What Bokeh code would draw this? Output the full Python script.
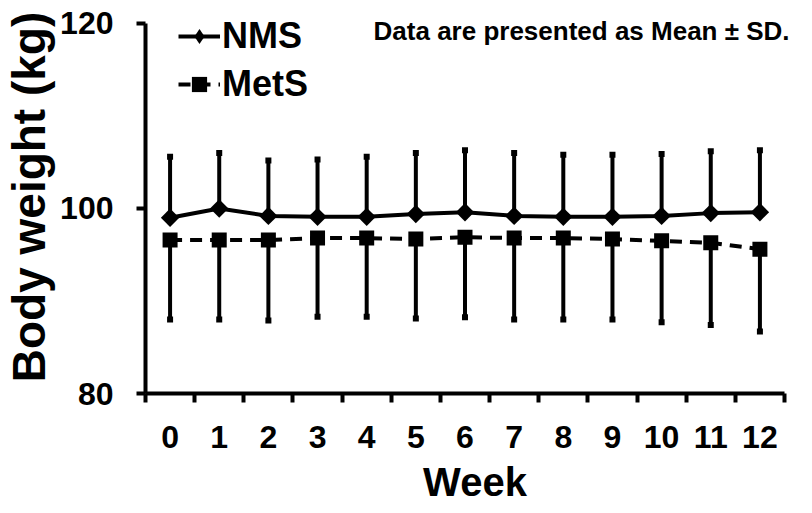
import numpy as np
from bokeh.plotting import figure
from bokeh.models import FixedTicker, Range1d, Legend, LegendItem, Label
from bokeh.embed import file_html
from bokeh.resources import INLINE

# ---- data ----
weeks = list(range(13))
week_labels = [str(w) for w in weeks]
nms_mean = [99.0, 100.0, 99.2, 99.1, 99.1, 99.4, 99.6, 99.2, 99.1, 99.1, 99.2, 99.5, 99.6]
nms_sd = [6.6, 6.0, 6.0, 6.2, 6.5, 6.6, 6.7, 6.8, 6.7, 6.7, 6.7, 6.7, 6.7]
mets_mean = [96.6, 96.6, 96.6, 96.8, 96.8, 96.7, 96.9, 96.8, 96.8, 96.7, 96.5, 96.3, 95.6]
mets_sd = [8.6, 8.6, 8.7, 8.5, 8.5, 8.6, 8.65, 8.8, 8.8, 8.7, 8.8, 8.9, 8.9]
y_ticks = [80, 100, 120]
series_names = ["NMS", "MetS"]
note_text = "Data are presented as Mean \u00b1 SD."
x_title = "Week"
y_title = "Body weight (kg)"

FONT = "Liberation Sans"
BLACK = "#000000"

nms_upper = [m + s for m, s in zip(nms_mean, nms_sd)]
mets_lower = [m - s for m, s in zip(mets_mean, mets_sd)]

x_start = weeks[0] - 0.5
x_end = weeks[-1] + 0.5

p = figure(
    frame_width=659, frame_height=393,
    min_border_left=137, min_border_right=0, min_border_top=0, min_border_bottom=112,
    x_range=Range1d(x_start, 12.907), y_range=Range1d(y_ticks[0], 122.486),
    output_backend="svg", toolbar_location=None,
)
p.outline_line_color = None
p.grid.visible = False
p.background_fill_color = "white"
p.border_fill_color = "white"

# error bars
p.segment(x0=weeks, y0=nms_mean, x1=weeks, y1=nms_upper, line_width=4, line_color=BLACK)
p.scatter(x=weeks, y=nms_upper, marker="square", size=6, fill_color=BLACK, line_color=None)
p.segment(x0=weeks, y0=mets_mean, x1=weeks, y1=mets_lower, line_width=4, line_color=BLACK)
p.scatter(x=weeks, y=mets_lower, marker="square", size=6, fill_color=BLACK, line_color=None)

# series
nms_line = p.line(x=weeks, y=nms_mean, line_width=4, line_color=BLACK)
nms_pts = p.scatter(x=weeks, y=nms_mean, marker="square", angle=np.pi / 4, size=13,
                    fill_color=BLACK, line_color=None)
mets_line = p.line(x=weeks, y=mets_mean, line_width=4, line_color=BLACK, line_dash="12 8")
mets_pts = p.scatter(x=weeks, y=mets_mean, marker="square", size=15, fill_color=BLACK, line_color=None)
# legend-only diamond key (hidden in the plot area)
nms_key = p.scatter(x=weeks, y=nms_mean, marker="diamond", fill_color=BLACK, line_color=None,
                    visible=False)

legend = Legend(
    items=[LegendItem(label=series_names[0], renderers=[nms_line, nms_key]),
           LegendItem(label=series_names[1], renderers=[mets_line, mets_pts])],
    location=(33, 288), margin=0, padding=0, spacing=6,
    glyph_width=42, glyph_height=38, label_height=36, label_standoff=2,
    label_text_font=FONT, label_text_font_style="bold", label_text_font_size="36px",
    label_text_color=BLACK, border_line_color=None, background_fill_alpha=0,
    inactive_fill_alpha=0,
)
p.add_layout(legend)

# axes
xa = p.xaxis[0]
xa.bounds = (x_start, x_end)
xa.ticker = FixedTicker(ticks=weeks, minor_ticks=[w - 0.5 for w in weeks] + [x_end])
xa.major_label_overrides = {w: lab for w, lab in zip(weeks, week_labels)}
xa.major_tick_out = 0
xa.major_tick_in = 0
xa.minor_tick_out = 9
xa.minor_tick_in = 0
xa.minor_tick_line_width = 4
xa.minor_tick_line_color = BLACK
xa.axis_line_width = 4
xa.axis_line_color = BLACK
xa.major_label_text_font = FONT
xa.major_label_text_font_style = "bold"
xa.major_label_text_font_size = "32px"
xa.major_label_text_color = BLACK
xa.major_label_standoff = 23
xa.axis_label = x_title
xa.axis_label_text_font = FONT
xa.axis_label_text_font_style = "bold"
xa.axis_label_text_font_size = "40px"
xa.axis_label_text_color = BLACK
xa.axis_label_standoff = 9

ya = p.yaxis[0]
ya.bounds = (y_ticks[0], y_ticks[-1])
ya.ticker = FixedTicker(ticks=y_ticks, minor_ticks=[])
ya.major_tick_out = 9
ya.major_tick_in = 0
ya.major_tick_line_width = 4
ya.major_tick_line_color = BLACK
ya.minor_tick_out = 0
ya.minor_tick_in = 0
ya.axis_line_width = 4
ya.axis_line_color = BLACK
ya.major_label_text_font = FONT
ya.major_label_text_font_style = "bold"
ya.major_label_text_font_size = "32px"
ya.major_label_text_color = BLACK
ya.major_label_standoff = 23
ya.axis_label = y_title
ya.axis_label_text_font = FONT
ya.axis_label_text_font_style = "bold"
ya.axis_label_text_font_size = "46px"
ya.axis_label_text_color = BLACK
ya.axis_label_standoff = 2

note = Label(x=4.14, y=119.24, text=note_text, text_font=FONT, text_font_style="bold",
             text_font_size="26px", text_color=BLACK, text_baseline="middle", text_align="left")
p.add_layout(note)

open("out.html", "w").write(file_html(p, INLINE))
